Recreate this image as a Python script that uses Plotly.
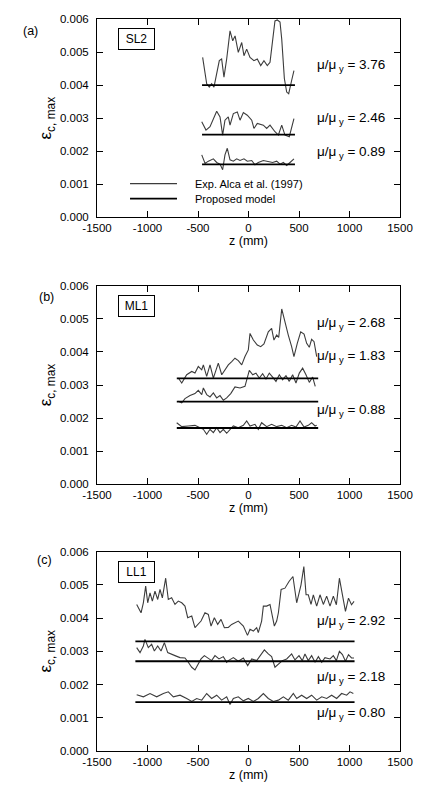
import plotly.graph_objects as go

# ---------------- data ----------------
# Panel (a) SL2
a_model_x = [-460, 460]
a1_level, a2_level, a3_level = 0.0040, 0.0025, 0.0016
a1_x = [-454, -414, -388, -365, -342, -289, -266, -243, -216, -183, -156, -133, -101, -67, -45, -18, 15, 54, 87, 121, 153, 186, 213, 246, 262, 285, 312, 329, 355, 378, 398, 427, 450]
a1_y = [0.00484, 0.00404, 0.00394, 0.00404, 0.00394, 0.00474, 0.00479, 0.00424, 0.00479, 0.00564, 0.00534, 0.00549, 0.00499, 0.00529, 0.00489, 0.00509, 0.00484, 0.00474, 0.00479, 0.00459, 0.00474, 0.00459, 0.00469, 0.00549, 0.00594, 0.00597, 0.00591, 0.00539, 0.00420, 0.00379, 0.00374, 0.00414, 0.00444]
a2_x = [-463, -421, -381, -348, -315, -282, -256, -233, -200, -183, -150, -111, -84, -51, -12, 32, 54, 87, 147, 180, 213, 262, 296, 329, 361, 404, 450]
a2_y = [0.00289, 0.00264, 0.00274, 0.00299, 0.00321, 0.00304, 0.00249, 0.00294, 0.00304, 0.00279, 0.00314, 0.00319, 0.00294, 0.00317, 0.00309, 0.00294, 0.00269, 0.00284, 0.00279, 0.00269, 0.00279, 0.00259, 0.00249, 0.00279, 0.00249, 0.00244, 0.00299]
a3_x = [-463, -430, -397, -348, -315, -282, -256, -233, -210, -183, -150, -117, -84, -45, -12, 32, 64, 97, 147, 196, 239, 279, 312, 345, 378, 411, 450]
a3_y = [0.00189, 0.00163, 0.00170, 0.00177, 0.00166, 0.00161, 0.00144, 0.00189, 0.00209, 0.00174, 0.00170, 0.00177, 0.00172, 0.00177, 0.00170, 0.00172, 0.00159, 0.00166, 0.00172, 0.00170, 0.00166, 0.00170, 0.00161, 0.00166, 0.00157, 0.00166, 0.00177]

# Panel (b) ML1
b_model_x = [-710, 690]
b1_level, b2_level, b3_level = 0.0032, 0.0025, 0.0017
b1_x = [-695, -661, -612, -562, -530, -497, -463, -447, -414, -381, -348, -299, -265, -233, -200, -166, -134, -101, -67, -35, -2, 15, 48, 87, 121, 153, 196, 229, 252, 279, 299, 329, 361, 394, 427, 450, 483, 517, 550, 576, 602, 625, 649, 675]
b1_y = [0.00321, 0.00306, 0.00331, 0.00341, 0.00336, 0.00356, 0.00346, 0.00361, 0.00326, 0.00361, 0.00321, 0.00366, 0.00331, 0.00346, 0.00361, 0.00371, 0.00381, 0.00374, 0.00361, 0.00386, 0.00406, 0.00456, 0.00436, 0.00421, 0.00416, 0.00424, 0.00461, 0.00471, 0.00436, 0.00451, 0.00444, 0.00530, 0.00486, 0.00451, 0.00416, 0.00386, 0.00426, 0.00461, 0.00454, 0.00426, 0.00414, 0.00438, 0.00431, 0.00386]
b2_x = [-695, -661, -629, -579, -530, -497, -463, -447, -414, -381, -348, -315, -282, -249, -216, -176, -134, -84, -35, -12, 8, 42, 74, 107, 140, 173, 206, 239, 272, 305, 338, 371, 404, 437, 470, 503, 536, 569, 602, 635, 661]
b2_y = [0.00251, 0.00246, 0.00259, 0.00268, 0.00274, 0.00284, 0.00271, 0.00291, 0.00271, 0.00264, 0.00276, 0.00261, 0.00268, 0.00254, 0.00261, 0.00274, 0.00294, 0.00291, 0.00296, 0.00321, 0.00344, 0.00331, 0.00336, 0.00321, 0.00334, 0.00318, 0.00336, 0.00324, 0.00311, 0.00331, 0.00316, 0.00328, 0.00311, 0.00331, 0.00306, 0.00336, 0.00351, 0.00331, 0.00308, 0.00324, 0.00296]
b3_x = [-711, -661, -596, -530, -480, -447, -414, -381, -348, -315, -282, -249, -216, -183, -150, -101, -51, -18, 15, 64, 97, 130, 180, 229, 279, 329, 378, 427, 470, 510, 550, 592, 625, 659, 675]
b3_y = [0.00186, 0.00174, 0.00176, 0.00178, 0.00171, 0.00166, 0.00151, 0.00166, 0.00156, 0.00171, 0.00156, 0.00166, 0.00154, 0.00166, 0.00176, 0.00171, 0.00178, 0.00191, 0.00176, 0.00181, 0.00166, 0.00186, 0.00174, 0.00181, 0.00174, 0.00178, 0.00171, 0.00178, 0.00173, 0.00191, 0.00173, 0.00178, 0.00186, 0.00176, 0.00178]

# Panel (c) LL1
c_model_x = [-1120, 1050]
c1_level, c2_level, c3_level = 0.0033, 0.0027, 0.00147
c1_x = [-1107, -1064, -1041, -1018, -998, -975, -952, -926, -899, -876, -853, -820, -794, -761, -728, -695, -661, -629, -602, -562, -530, -503, -470, -431, -398, -371, -338, -305, -272, -239, -200, -167, -101, -51, -10, 15, 48, 81, 97, 130, 147, 180, 213, 256, 279, 296, 323, 361, 401, 440, 477, 520, 548, 570, 592, 619, 642, 675, 708, 741, 774, 807, 840, 870, 900, 930, 960, 990, 1020, 1045]
c1_y = [0.00441, 0.00416, 0.00446, 0.00496, 0.00446, 0.00476, 0.00451, 0.00481, 0.00456, 0.00486, 0.00461, 0.00520, 0.00456, 0.00461, 0.00441, 0.00451, 0.00446, 0.00436, 0.00401, 0.00406, 0.00371, 0.00381, 0.00391, 0.00416, 0.00411, 0.00376, 0.00401, 0.00381, 0.00396, 0.00371, 0.00372, 0.00381, 0.00391, 0.00376, 0.00348, 0.00366, 0.00361, 0.00371, 0.00356, 0.00391, 0.00436, 0.00436, 0.00441, 0.00376, 0.00391, 0.00416, 0.00486, 0.00490, 0.00510, 0.00525, 0.00446, 0.00500, 0.00555, 0.00470, 0.00470, 0.00441, 0.00470, 0.00436, 0.00470, 0.00441, 0.00466, 0.00436, 0.00466, 0.00440, 0.00520, 0.00470, 0.00420, 0.00460, 0.00440, 0.00450]
c2_x = [-1107, -1074, -1041, -1025, -992, -959, -932, -899, -866, -833, -800, -767, -728, -678, -629, -596, -562, -530, -503, -470, -437, -398, -365, -332, -292, -249, -216, -200, -150, -101, -51, -8, 32, 81, 124, 157, 196, 229, 262, 296, 335, 378, 427, 460, 500, 533, 559, 592, 625, 659, 692, 725, 757, 807, 840, 870, 900, 930, 960, 990, 1020, 1045]
c2_y = [0.00311, 0.00296, 0.00316, 0.00336, 0.00311, 0.00321, 0.00301, 0.00316, 0.00301, 0.00326, 0.00296, 0.00291, 0.00287, 0.00281, 0.00280, 0.00267, 0.00252, 0.00244, 0.00257, 0.00277, 0.00287, 0.00280, 0.00272, 0.00287, 0.00277, 0.00284, 0.00267, 0.00272, 0.00281, 0.00270, 0.00280, 0.00257, 0.00277, 0.00272, 0.00292, 0.00304, 0.00292, 0.00284, 0.00252, 0.00262, 0.00272, 0.00277, 0.00292, 0.00274, 0.00287, 0.00272, 0.00292, 0.00272, 0.00287, 0.00267, 0.00284, 0.00267, 0.00281, 0.00277, 0.00287, 0.00272, 0.00300, 0.00290, 0.00270, 0.00290, 0.00280, 0.00280]
c3_x = [-1107, -1041, -975, -909, -843, -794, -744, -678, -612, -562, -513, -463, -414, -365, -315, -266, -216, -183, -150, -101, -51, -2, 48, 97, 147, 196, 246, 296, 345, 394, 444, 477, 526, 576, 625, 675, 725, 774, 823, 873, 922, 972, 1005, 1038]
c3_y = [0.00169, 0.00163, 0.00173, 0.00163, 0.00173, 0.00178, 0.00163, 0.00168, 0.00158, 0.00149, 0.00158, 0.00153, 0.00173, 0.00158, 0.00168, 0.00153, 0.00163, 0.00140, 0.00158, 0.00163, 0.00151, 0.00158, 0.00149, 0.00158, 0.00173, 0.00158, 0.00149, 0.00153, 0.00163, 0.00153, 0.00173, 0.00158, 0.00168, 0.00158, 0.00168, 0.00153, 0.00163, 0.00158, 0.00168, 0.00158, 0.00173, 0.00168, 0.00178, 0.00173]

# ratio labels: (text, y position)
a_labels = [("3.76", 0.00459), ("2.46", 0.00300), ("0.89", 0.00195)]
b_labels = [("2.68", 0.00486), ("1.83", 0.00387), ("0.88", 0.00222)]
c_labels = [("2.92", 0.00391), ("2.18", 0.00221), ("0.80", 0.00113)]
panel_names = ["SL2", "ML1", "LL1"]
panel_tags = ["(a)", "(b)", "(c)"]
legend_names = ["Exp. Alca et al. (1997)", "Proposed model"]

x_ticks = [-1500, -1000, -500, 0, 500, 1000, 1500]
y_ticks = [0.000, 0.001, 0.002, 0.003, 0.004, 0.005, 0.006]

# ---------------- figure ----------------
FONT = "Liberation Sans, Arial, sans-serif"
EXP_COLOR = "#3c3c3c"
MODEL_W = 1.8
fig = go.Figure()

panels = [
    (a_model_x, [(a1_x, a1_y, a1_level), (a2_x, a2_y, a2_level), (a3_x, a3_y, a3_level)], a_labels),
    (b_model_x, [(b1_x, b1_y, b1_level), (b2_x, b2_y, b2_level), (b3_x, b3_y, b3_level)], b_labels),
    (c_model_x, [(c1_x, c1_y, c1_level), (c2_x, c2_y, c2_level), (c3_x, c3_y, c3_level)], c_labels),
]

domains = [[0.729, 1.0], [0.3645, 0.6355], [0.0, 0.2724]]
tag_pos = [(-0.221, 0.94), (-0.168, 0.945), (-0.172, 0.96)]

for i, (mx, series, labels) in enumerate(panels):
    xa = "x" if i == 0 else f"x{i+1}"
    ya = "y" if i == 0 else f"y{i+1}"
    for j, (sx, sy, lvl) in enumerate(series):
        fig.add_trace(go.Scatter(
            x=sx, y=sy, mode="lines", xaxis=xa, yaxis=ya,
            line=dict(color=EXP_COLOR, width=1.1),
            name=legend_names[0], showlegend=False))
    for j, (sx, sy, lvl) in enumerate(series):
        fig.add_trace(go.Scatter(
            x=mx, y=[lvl, lvl], mode="lines", xaxis=xa, yaxis=ya,
            line=dict(color="black", width=MODEL_W),
            name=legend_names[1], showlegend=False))
    for txt, yv in labels:
        fig.add_annotation(x=1370, y=yv, xref=xa, yref=ya, xanchor="right", yanchor="middle",
                           text=f"μ/μ<sub> y</sub> = {txt}", showarrow=False,
                           font=dict(family=FONT, size=13.5, color="black"))
    fig.add_annotation(x=0.130, y=0.90, xref=f"{xa} domain", yref=f"{ya} domain",
                       xanchor="center", yanchor="middle", text=panel_names[i], showarrow=False,
                       font=dict(family=FONT, size=12, color="black"),
                       bordercolor="black", borderwidth=1, borderpad=2, width=31, height=16,
                       bgcolor="white")
    tx, ty = tag_pos[i]
    fig.add_annotation(x=tx, y=ty, xref=f"{xa} domain", yref=f"{ya} domain",
                       xanchor="center", yanchor="middle", text=panel_tags[i], showarrow=False,
                       font=dict(family=FONT, size=12.5, color="black"))

    axis_common = dict(showline=True, linecolor="black", linewidth=1, mirror="ticks",
                       ticks="inside", ticklen=6, tickcolor="black", tickwidth=1,
                       showgrid=False, zeroline=False,
                       tickfont=dict(family=FONT, size=11.5, color="black"))
    xkey = "xaxis" if i == 0 else f"xaxis{i+1}"
    ykey = "yaxis" if i == 0 else f"yaxis{i+1}"
    fig.update_layout(**{
        xkey: dict(axis_common, range=[-1500, 1500], tickvals=x_ticks,
                   ticktext=[str(v) for v in x_ticks], anchor=ya, domain=[0, 1],
                   title=dict(text="z (mm)", standoff=3, font=dict(family=FONT, size=12.5, color="black"))),
        ykey: dict(axis_common, range=[0, 0.006], tickvals=y_ticks,
                   ticktext=[f"{v:.3f}" for v in y_ticks], anchor=xa, domain=domains[i],
                   ticklabelstandoff=5,
                   title=dict(text="ε<sub>c, max</sub>", standoff=3, font=dict(family=FONT, size=17, color="black"))),
    })

# legend drawn inside panel (a), in axis-domain coordinates
legend_rows = [(0.17, EXP_COLOR, 1.1), (0.095, "black", MODEL_W)]
for (yrow, col, w), name in zip(legend_rows, legend_names):
    fig.add_shape(type="line", xref="x domain", yref="y domain",
                  x0=0.109, x1=0.264, y0=yrow, y1=yrow, line=dict(color=col, width=w))
    fig.add_annotation(x=0.317, y=yrow, xref="x domain", yref="y domain",
                       xanchor="left", yanchor="middle", text=name, showarrow=False,
                       font=dict(family=FONT, size=11, color="black"))

# the page body has an 8px default margin, so the figure is sized to fit the 424x793 window
fig.update_layout(
    width=416, height=777,
    margin=dict(l=89, r=24, t=5, b=34),
    paper_bgcolor="white", plot_bgcolor="white",
    showlegend=False,
)

fig.write_html("out.html")
